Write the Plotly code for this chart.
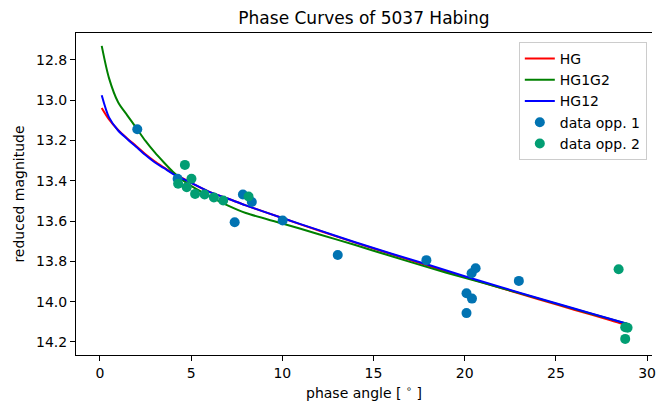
import plotly.graph_objects as go

# Model curves (phase angle in degrees -> reduced magnitude)
phase_grid = [0.1, 0.5, 1.0, 1.5, 2.0, 2.5, 3.0, 3.5, 4.0, 4.5, 5.0, 6.0, 7.0, 8.0,
              10.0, 12.0, 14.0, 16.0, 18.0, 20.0, 22.0, 24.0, 26.0, 28.0, 28.9]
mag_hg = [13.038, 13.095, 13.148, 13.190, 13.228, 13.268, 13.303, 13.333, 13.362, 13.386,
          13.410, 13.455, 13.488, 13.522, 13.585, 13.647, 13.707, 13.765, 13.822, 13.878,
          13.933, 13.987, 14.040, 14.093, 14.118]
mag_hg1g2 = [12.730, 12.890, 13.010, 13.075, 13.138, 13.202, 13.258, 13.308, 13.355, 13.394,
             13.425, 13.476, 13.522, 13.560, 13.612, 13.665, 13.719, 13.775, 13.830, 13.882,
             13.932, 13.984, 14.036, 14.087, 14.110]
mag_hg12 = [12.975, 13.085, 13.150, 13.192, 13.232, 13.272, 13.308, 13.336, 13.365, 13.388,
            13.410, 13.455, 13.488, 13.522, 13.585, 13.645, 13.705, 13.762, 13.817, 13.874,
            13.928, 13.982, 14.034, 14.086, 14.110]

# Observations, first opposition
opp1_phase = [2.05, 4.26, 7.39, 7.84, 8.33, 10.02, 13.04, 17.90,
              20.10, 20.40, 20.10, 20.38, 20.60, 22.97]
opp1_mag = [13.144, 13.390, 13.606, 13.468, 13.505, 13.597, 13.768, 13.794,
            13.958, 13.985, 14.057, 13.859, 13.834, 13.897]

# Observations, second opposition
opp2_phase = [4.29, 4.66, 4.76, 5.02, 5.22, 5.74, 6.25, 6.76, 8.15,
              28.44, 28.93, 28.80, 28.80]
opp2_mag = [13.415, 13.321, 13.432, 13.390, 13.465, 13.468, 13.483, 13.498, 13.478,
            13.839, 14.130, 14.127, 14.185]

x_ticks = [0, 5, 10, 15, 20, 25, 30]
y_ticks = [12.8, 13.0, 13.2, 13.4, 13.6, 13.8, 14.0, 14.2]

FONT = "DejaVu Sans"
FS = 14

fig = go.Figure()
for name, vals, col in [("HG", mag_hg, "red"),
                        ("HG1G2", mag_hg1g2, "green"),
                        ("HG12", mag_hg12, "blue")]:
    fig.add_trace(go.Scatter(x=phase_grid, y=vals, mode="lines", name=name,
                             line=dict(color=col, width=2, shape="spline", smoothing=0.8)))

fig.add_trace(go.Scatter(x=opp1_phase, y=opp1_mag, mode="markers", name="data opp. 1",
                         marker=dict(color="#0173b2", size=10, line=dict(width=0))))
fig.add_trace(go.Scatter(x=opp2_phase, y=opp2_mag, mode="markers", name="data opp. 2",
                         marker=dict(color="#029e73", size=10, line=dict(width=0))))

axis_common = dict(showgrid=False, zeroline=False, showline=True, linecolor="black",
                   linewidth=1, ticks="outside", ticklen=5, tickwidth=1, tickcolor="black",
                   ticklabeloverflow="allow",
                   tickfont=dict(family=FONT, size=FS, color="black"))

fig.update_layout(
    width=656, height=408,
    margin=dict(l=76, r=0, t=33, b=53),
    paper_bgcolor="white", plot_bgcolor="white",
    font=dict(family=FONT, size=FS, color="black"),
    title=dict(text="Phase Curves of 5037 Habing", x=0.5, xref="paper",
               y=1 - 18 / 408, yref="container", yanchor="middle", xanchor="center",
               font=dict(family=FONT, size=17, color="black")),
    xaxis=dict(range=[-1.31, 30.27], tickvals=x_ticks, mirror=True,
               title=dict(text="phase angle [ <sup>∘</sup> ]", standoff=8,
                          font=dict(family=FONT, size=FS)),
               **axis_common),
    yaxis=dict(range=[14.265, 12.666], tickvals=y_ticks, ticktext=[f"{v:.1f}" for v in y_ticks],
               mirror=False,
               title=dict(text="reduced magnitude", standoff=8,
                          font=dict(family=FONT, size=FS)),
               **axis_common),
    legend=dict(x=0.991, y=0.972, xanchor="right", yanchor="top",
                bgcolor="rgba(255,255,255,0.8)", bordercolor="#cccccc", borderwidth=1,
                font=dict(family=FONT, size=FS), tracegroupgap=0),
    showlegend=True,
)

fig.write_html("out.html")
